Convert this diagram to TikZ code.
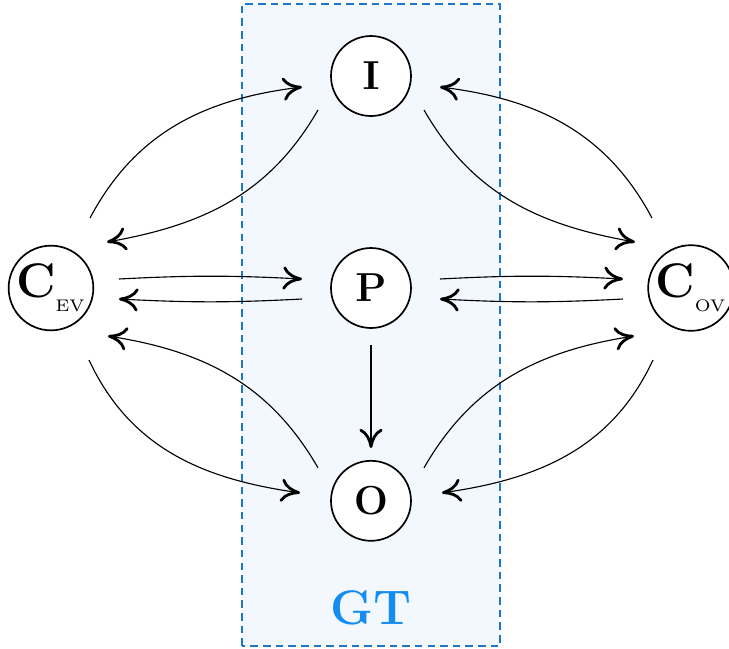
\documentclass[tikz,border=0pt]{standalone}
\usepackage{amsmath, amssymb}
\usepackage{tikz}
\usetikzlibrary{arrows.meta, calc}

\definecolor{gtfill}{RGB}{243,248,255}
\definecolor{gtline}{RGB}{30,120,200}
\definecolor{gttext}{RGB}{20,140,240}

\newcommand{\subtag}[1]{\raisebox{-2.5pt}{\fontsize{6}{7}\selectfont #1}}

\begin{document}
\begin{tikzpicture}[
    state/.style={circle, draw, semithick, fill=white, minimum size=1cm, inner sep=0pt, font=\Large},
    flow/.style={thin, -{Computer Modern Rightarrow[length=2.4mm,width=2.9mm,line width=1pt]}}
  ]
  \useasboundingbox (-4.6375,-4.5) rectangle (4.475,3.6);
  % ground truth band
  \filldraw[fill=gtfill, draw=gtline, line width=0.7pt, dash pattern=on 2.7pt off 1.8pt] (-1.6125,-4.475) rectangle (1.6125,3.55);
  \node[text=gttext, font=\LARGE\bfseries] (gt) at (0,-4) {GT};

  \node[state] (i) at (0,2.65) {$\mathbf{I}$};
  \node[state] (p) at (0,0) {$\mathbf{P}$};
  \node[state] (o) at (0,-2.66) {$\mathbf{O}$};
  \node[state, font=\LARGE] (cev) at (-4,0) {$\mathbf{C}_{\subtag{EV}}$};
  \node[state, font=\LARGE] (cov) at (4,0) {$\mathbf{C}_{\subtag{OV}}$};

  % left side
  \draw[flow] ($(cev)+(0.4875,0.875)$) to[out=62,in=187] ($(i)+(-0.8625,-0.1375)$);
  \draw[flow] ($(i)+(-0.6625,-0.425)$) to[out=240,in=10] ($(cev)+(0.7,0.575)$);
  \draw[flow] ($(cev)+(0.85,0.1125)$) to[bend left=3] ($(p)+(-0.8625,0.1125)$);
  \draw[flow] ($(p)+(-0.8625,-0.1375)$) to[bend left=3] ($(cev)+(0.85,-0.1375)$);
  \draw[flow] ($(o)+(-0.6625,0.4125)$) to[out=120,in=351] ($(cev)+(0.7125,-0.6)$);
  \draw[flow] ($(cev)+(0.475,-0.9)$) to[out=-65,in=172] ($(o)+(-0.8875,0.1)$);

  % right side
  \draw[flow] ($(cov)+(-0.4875,0.875)$) to[out=118,in=-7] ($(i)+(0.8625,-0.1375)$);
  \draw[flow] ($(i)+(0.6625,-0.425)$) to[out=-60,in=170] ($(cov)+(-0.7,0.575)$);
  \draw[flow] ($(p)+(0.8625,0.1125)$) to[bend left=3] ($(cov)+(-0.85,0.1125)$);
  \draw[flow] ($(cov)+(-0.85,-0.1375)$) to[bend left=3] ($(p)+(0.8625,-0.1375)$);
  \draw[flow] ($(o)+(0.6625,0.4125)$) to[out=60,in=189] ($(cov)+(-0.7125,-0.6)$);
  \draw[flow] ($(cov)+(-0.475,-0.9)$) to[out=245,in=8] ($(o)+(0.8875,0.1)$);

  % middle
  \draw[flow] ($(p)+(0,-0.7125)$) -- ($(o)+(0,0.66)$);
\end{tikzpicture}
\end{document}
